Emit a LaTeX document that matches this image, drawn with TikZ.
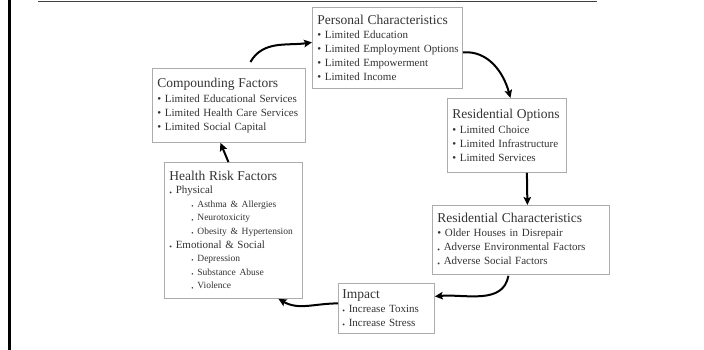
\documentclass[tikz,border=0pt]{standalone}
\usepackage{fontspec}
\setmainfont{Liberation Serif}
\usepackage{graphicx}
\usetikzlibrary{arrows.meta}

\newcommand{\hdr}{\fontsize{13.5}{16}\selectfont}
\newcommand{\sub}{\fontsize{9.5}{13.6}\selectfont}
\newcommand{\bul}{\textbullet\ }
\newcommand{\lbul}{\raisebox{-0.25ex}{\scalebox{0.7}{\textbullet}}\ }

\begin{document}
\begin{tikzpicture}[x=1pt,y=-1pt,
  factor/.style={draw=gray!65, line width=0.8pt, fill=white, anchor=north west,
    align=left, inner xsep=5pt, inner ysep=3pt, text=black!80,
    font=\fontsize{11}{14}\selectfont},
  flow/.style={line width=2pt, -{Stealth[length=8pt,width=7.5pt,inset=1.5pt]}}]
  \useasboundingbox (0,0) rectangle (704,350);

  % page frame
  \draw[line width=3pt] (9,0) -- (9,350);
  \draw[line width=1.8pt, black!75] (38,1.5) -- (597,1.5);

  \node[factor, text width=140pt, minimum height=81pt] (pers) at (312,7)
    {{\hdr Personal Characteristics}\\
     \bul Limited Education\\
     \mbox{\bul Limited Employment Options}\\
     \bul Limited Empowerment\\
     \bul Limited Income};
  \node[factor, text width=143pt, minimum height=74pt] (comp) at (152,68)
    {{\hdr Compounding Factors}\\[1pt]
     \bul Limited Educational Services\\
     \bul Limited Health Care Services\\
     \bul Limited Social Capital};
  \node[factor, text width=109pt, minimum height=74pt] (resopt) at (447,98)
    {{\hdr Residential Options}\\[1pt]
     \bul Limited Choice\\
     \bul Limited Infrastructure\\
     \bul Limited Services};
  \node[factor, text width=128pt, minimum height=136pt,
        font=\fontsize{11}{13.6}\selectfont] (health) at (164,162)
    {{\hdr Health Risk Factors}\\
     \lbul Physical\\
     \hspace*{22pt}{\sub\lbul Asthma \& Allergies}\\
     \hspace*{22pt}{\sub\lbul Neurotoxicity}\\
     \hspace*{22pt}{\sub\lbul Obesity \& Hypertension}\\
     \lbul Emotional \& Social\\
     \hspace*{22pt}{\sub\lbul Depression}\\
     \hspace*{22pt}{\sub\lbul Substance Abuse}\\
     \hspace*{22pt}{\sub\lbul Violence}};
  \node[factor, text width=167pt, minimum height=69pt] (reschar) at (432,205)
    {{\hdr Residential Characteristics}\\
     \bul Older Houses in Disrepair\\
     \lbul Adverse Environmental Factors\\
     \lbul Adverse Social Factors};
  \node[factor, text width=88pt, minimum height=50pt, inner xsep=4pt] (impact) at (338,283)
    {{\hdr Impact}\\
     \lbul Increase Toxins\\
     \lbul Increase Stress};

  \draw[flow] ([xshift=21.5pt,yshift=6pt]comp.north) to[out=60,in=188] ([yshift=5.5pt]pers.west);
  \draw[flow] ([yshift=-4.5pt]pers.east) to[out=5,in=105] ([xshift=3.5pt]resopt.north);
  \draw[flow] ([xshift=20pt]resopt.south) -- ([xshift=6.5pt]reschar.north);
  \draw[flow] ([xshift=-12.5pt,yshift=-1pt]reschar.south) to[out=-100,in=5] ([yshift=12pt]impact.east);
  \draw[flow] ([yshift=5pt]impact.west) to[out=180,in=-30] ([xshift=45pt]health.south);
  \draw[flow] ([xshift=-5pt]health.north) -- ([xshift=-8.5pt]comp.south);
\end{tikzpicture}
\end{document}
